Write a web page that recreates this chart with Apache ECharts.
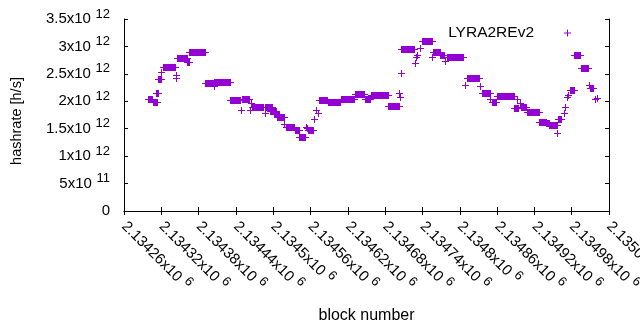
<!DOCTYPE html>
<html>
<head>
<meta charset="utf-8">
<script src="https://cdn.jsdelivr.net/npm/echarts@6/dist/echarts.min.js"></script>
<style>
  html, body { margin: 0; padding: 0; background: #fff; }
  #chart { width: 640px; height: 330px; }
</style>
</head>
<body>
<div id="chart"></div>
<script>
// runs of blocks sharing one hashrate value (first block, last block, h/s)
const runStart = [2134298, 2134306, 2134311, 2134314, 2134319, 2134322, 2134343, 2134344, 2134345, 2134362,
  2134365, 2134391, 2134404, 2134405, 2134431, 2134448, 2134450, 2134462, 2134464, 2134466,
  2134486, 2134487, 2134494, 2134501, 2134506, 2134518, 2134520, 2134535, 2134542, 2134552,
  2134554, 2134556, 2134565, 2134568, 2134572, 2134573, 2134588, 2134609, 2134631, 2134647,
  2134657, 2134685, 2134703, 2134704, 2134705, 2134706, 2134728, 2134730, 2134732, 2134736,
  2134739, 2134756, 2134757, 2134769, 2134776, 2134779, 2134808, 2134812, 2134833, 2134836,
  2134849, 2134852, 2134860, 2134888, 2134892, 2134897, 2134899, 2134908, 2134928, 2134939,
  2134944, 2134957, 2134958, 2134967, 2134970, 2134973, 2134974, 2134977, 2134984, 2134995,
  2135008, 2135009, 2135018, 2135020];
const runEnd = [2134305, 2134313, 2134315, 2134320, 2134319, 2134342, 2134343, 2134344, 2134361, 2134364,
  2134390, 2134403, 2134404, 2134430, 2134447, 2134448, 2134461, 2134462, 2134464, 2134483,
  2134486, 2134498, 2134504, 2134509, 2134517, 2134518, 2134534, 2134541, 2134551, 2134552,
  2134554, 2134564, 2134565, 2134568, 2134572, 2134587, 2134608, 2134630, 2134646, 2134656,
  2134684, 2134702, 2134703, 2134704, 2134705, 2134727, 2134728, 2134730, 2134732, 2134736,
  2134755, 2134756, 2134768, 2134775, 2134776, 2134805, 2134808, 2134831, 2134833, 2134848,
  2134849, 2134859, 2134887, 2134893, 2134892, 2134897, 2134907, 2134927, 2134938, 2134943,
  2134956, 2134957, 2134963, 2134967, 2134970, 2134973, 2134974, 2134983, 2134994, 2135006,
  2135008, 2135014, 2135018, 2135020];
const hashrate = [2.05e12, 1.99e12, 2.15e12, 2.40e12, 2.54e12, 2.62e12, 2.48e12, 2.42e12, 2.78e12, 2.72e12,
  2.89e12, 2.33e12, 2.28e12, 2.35e12, 2.02e12, 1.84e12, 2.04e12, 1.85e12, 1.97e12, 1.89e12,
  1.78e12, 1.89e12, 1.83e12, 1.77e12, 1.72e12, 1.59e12, 1.53e12, 1.48e12, 1.35e12, 1.54e12,
  1.52e12, 1.48e12, 1.68e12, 1.84e12, 1.79e12, 2.02e12, 1.98e12, 2.05e12, 2.13e12, 2.05e12,
  2.11e12, 1.91e12, 2.16e12, 2.08e12, 2.51e12, 2.95e12, 2.70e12, 2.80e12, 2.84e12, 2.97e12,
  3.10e12, 2.80e12, 2.89e12, 2.85e12, 2.74e12, 2.81e12, 2.29e12, 2.42e12, 2.27e12, 2.16e12,
  2.04e12, 1.99e12, 2.10e12, 1.87e12, 2.04e12, 1.97e12, 1.89e12, 1.81e12, 1.63e12, 1.60e12,
  1.57e12, 1.43e12, 1.67e12, 1.79e12, 1.89e12, 2.08e12, 2.12e12, 2.21e12, 2.84e12, 2.61e12,
  2.30e12, 2.24e12, 2.04e12, 2.06e12];

const seriesName = 'LYRA2REv2';
const purple = '#9400d3';
const font = 'Liberation Sans, Arial, sans-serif';

// gnuplot style "2.1345x10^6"
const sciLabel = (v) => {
  if (v === 0) return '0';
  const e = Math.floor(Math.log10(v) + 1e-9);
  const m = parseFloat((v / Math.pow(10, e)).toPrecision(7));
  return '{b|' + m + 'x10}{s| ' + e + '}';
};
const rich = {
  b: { fontSize: 15, fontFamily: font, color: '#000' },
  s: { fontSize: 13, fontFamily: font, color: '#000', padding: [0, 0, 10, 1] }
};

const chart = echarts.init(document.getElementById('chart'), null, { renderer: 'canvas' });

const data = runStart.map((s, i) => [s, runEnd[i], hashrate[i]]);

const plusIcon = 'path://M3,0H4V3H7V4H4V7H3V4H0V3H3Z';

const option = {
  animation: false,
  backgroundColor: '#fff',
  grid: { left: 124, top: 19, width: 485, height: 192, containLabel: false, outerBoundsMode: 'none' },
  legend: {
    data: [{ name: seriesName, icon: plusIcon }],
    align: 'right',
    right: 69,
    top: 25,
    padding: 0,
    itemWidth: 7,
    itemHeight: 7,
    itemStyle: { color: purple },
    textStyle: { fontSize: 15.5, fontFamily: font, color: '#000', padding: [0, 25, 0, 0] }
  },
  xAxis: [
    {
      type: 'value',
      position: 'bottom',
      min: 2134260,
      max: 2135040,
      interval: 60,
      name: 'block number',
      nameLocation: 'middle',
      nameGap: 97,
      nameTextStyle: { fontSize: 16, fontFamily: font, color: '#000' },
      axisLine: { lineStyle: { color: '#000', width: 1 } },
      axisTick: { inside: true, length: 4, lineStyle: { color: '#000' } },
      axisLabel: {
        rotate: -45,
        margin: 13,
        showMinLabel: true,
        showMaxLabel: true,
        hideOverlap: false,
        formatter: sciLabel,
        rich: rich,
        fontSize: 15,
        fontFamily: font,
        color: '#000'
      },
      splitLine: { show: false }
    },
    {
      type: 'value',
      position: 'top',
      min: 2134260,
      max: 2135040,
      interval: 60,
      axisLine: { lineStyle: { color: '#000', width: 1 } },
      axisTick: { inside: true, length: 4, lineStyle: { color: '#000' } },
      axisLabel: { show: false },
      splitLine: { show: false }
    }
  ],
  yAxis: [
    {
      type: 'value',
      position: 'left',
      min: 0,
      max: 3.5e12,
      interval: 0.5e12,
      name: 'hashrate [h/s]',
      nameLocation: 'middle',
      nameGap: 100,
      nameTextStyle: { fontSize: 14.5, fontFamily: font, color: '#000', padding: [0, 12, 0, 0] },
      axisLine: { show: true, lineStyle: { color: '#000', width: 1 } },
      axisTick: { show: true, inside: true, length: 4, lineStyle: { color: '#000' } },
      axisLabel: {
        margin: 14,
        formatter: sciLabel,
        rich: rich,
        fontSize: 15,
        fontFamily: font,
        color: '#000'
      },
      splitLine: { show: false }
    },
    {
      type: 'value',
      position: 'right',
      min: 0,
      max: 3.5e12,
      interval: 0.5e12,
      axisLine: { show: true, lineStyle: { color: '#000', width: 1 } },
      axisTick: { show: true, inside: true, length: 4, lineStyle: { color: '#000' } },
      axisLabel: { show: false },
      splitLine: { show: false }
    }
  ],
  series: [
    {
      name: seriesName,
      type: 'custom',
      xAxisIndex: 0,
      yAxisIndex: 0,
      itemStyle: { color: purple },
      encode: { x: [0, 1], y: 2 },
      data: data,
      renderItem: (params, api) => {
        const p0 = api.coord([api.value(0), api.value(2)]);
        const p1 = api.coord([api.value(1), api.value(2)]);
        const y = Math.round(p0[1]);
        const x0 = Math.round(p0[0]);
        const x1 = Math.round(p1[0]);
        return {
          type: 'group',
          children: [
            {
              type: 'rect',
              shape: { x: x0, y: y - 3, width: x1 - x0 + 1, height: 7 },
              style: { fill: purple }
            },
            {
              type: 'rect',
              shape: { x: x0 - 3, y: y, width: x1 - x0 + 7, height: 1 },
              style: { fill: purple }
            }
          ]
        };
      }
    }
  ]
};

chart.setOption(option);
</script>
</body>
</html>
